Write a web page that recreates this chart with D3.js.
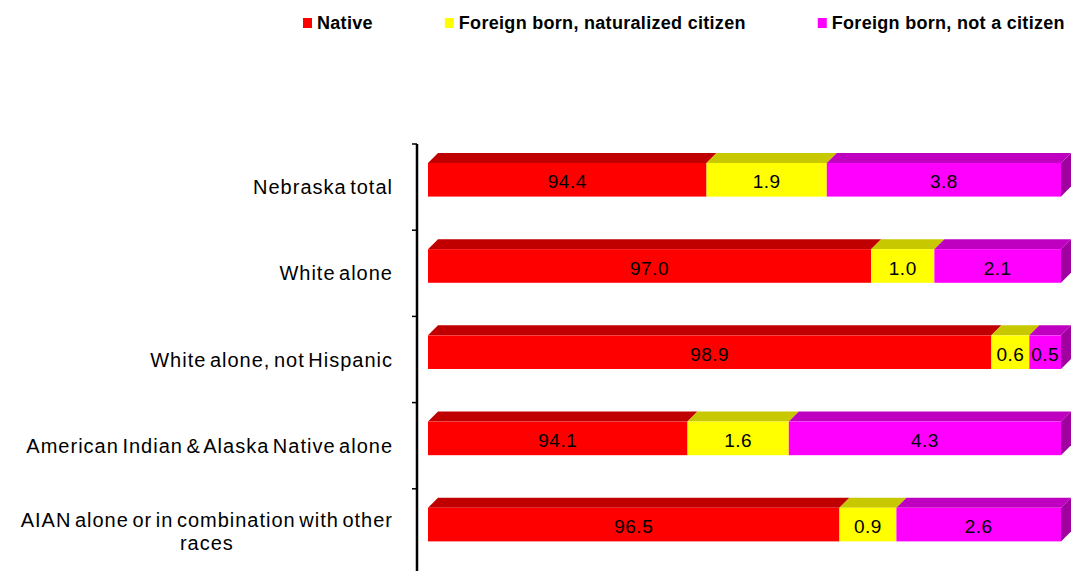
<!DOCTYPE html>
<html>
<head>
<meta charset="utf-8">
<script src="https://cdn.jsdelivr.net/npm/d3@7"></script>
<style>
  body { margin: 0; background: #fff; }
  svg { display: block; font-family: "Liberation Sans", Arial, sans-serif; }
</style>
</head>
<body>
<svg id="chart"></svg>
<script>
const categories = [
    "Nebraska total",
    "White alone",
    "White alone, not Hispanic",
    "American Indian & Alaska Native alone",
    "AIAN alone or in combination with other races"
];
const native = [94.4, 97.0, 98.9, 94.1, 96.5];
const naturalized = [1.9, 1.0, 0.6, 1.6, 0.9];
const notCitizen = [3.8, 2.1, 0.5, 4.3, 2.6];
const seriesNames = ["Native", "Foreign born, naturalized citizen", "Foreign born, not a citizen"];
const frontColors = ["#ff0000", "#ffff00", "#ff00ff"];
const topColors = ["#c00000", "#c8c800", "#c000c0"];
const sideColors = ["#a00000", "#a0a000", "#a000a0"];

const width = 1073, height = 571;
const depth = 10;

const rows = categories.map((c, i) => ({
    cat: c,
    [seriesNames[0]]: native[i],
    [seriesNames[1]]: naturalized[i],
    [seriesNames[2]]: notCitizen[i]
}));

const svg = d3.select("#chart").attr("width", width).attr("height", height);

const xScale = d3.scaleLinear().domain([90, 100]).range([428, 1061]).clamp(true);
const yScale = d3.scaleBand().domain(categories).range([144, 575]).padding(0);

const layers = d3.stack().keys(seriesNames)(rows);

const barTop = c => yScale(c) + yScale.bandwidth() * 0.22;
const barH = yScale.bandwidth() * 0.39;

// bars: top face, front face, side for the last segment
layers.forEach((layer, si) => {
    const g = svg.append("g").attr("class", "layer");
    g.selectAll(".top")
        .data(layer)
        .enter()
        .append("path")
        .attr("fill", topColors[si])
        .attr("d", d => {
            const x0 = xScale(d[0]), x1 = xScale(d[1]), y0 = barTop(d.data.cat);
            return `M${x0},${y0}L${x0 + depth},${y0 - depth}L${x1 + depth},${y0 - depth}L${x1},${y0}Z`;
        });
    g.selectAll(".front")
        .data(layer)
        .enter()
        .append("rect")
        .attr("x", d => xScale(d[0]))
        .attr("y", d => barTop(d.data.cat))
        .attr("width", d => xScale(d[1]) - xScale(d[0]))
        .attr("height", barH)
        .attr("fill", frontColors[si]);
    if (si === layers.length - 1) {
        g.selectAll(".side")
            .data(layer)
            .enter()
            .append("path")
            .attr("fill", sideColors[si])
            .attr("d", d => {
                const x1 = xScale(d[1]), y0 = barTop(d.data.cat);
                return `M${x1},${y0}L${x1 + depth},${y0 - depth}L${x1 + depth},${y0 + barH - depth}L${x1},${y0 + barH}Z`;
            });
    }
    g.selectAll(".val")
        .data(layer)
        .enter()
        .append("text")
        .attr("x", d => (xScale(d[0]) + xScale(d[1])) / 2)
        .attr("y", d => barTop(d.data.cat) + barH / 2 + 2)
        .attr("dy", "0.35em")
        .attr("text-anchor", "middle")
        .style("font-size", "19px")
        .style("letter-spacing", "0.5px")
        .attr("fill", "#000")
        .text(d => d3.format(".1f")(d[1] - d[0]));
});

// axis line with ticks at band boundaries
const axis = svg.append("g");
axis.append("line")
    .attr("x1", 417).attr("x2", 417)
    .attr("y1", yScale.range()[0]).attr("y2", height)
    .attr("stroke", "#000").attr("stroke-width", 2.5);
axis.selectAll(".tick")
    .data(categories)
    .enter()
    .append("line")
    .attr("x1", 412).attr("x2", 417)
    .attr("y1", d => yScale(d)).attr("y2", d => yScale(d))
    .attr("stroke", "#000").attr("stroke-width", 1.5);

// category labels, wrapped and right aligned
const labelRight = 393, maxW = 395, lineH = 23;
categories.forEach(c => {
    const t = svg.append("text")
        .style("font-size", "20px")
        .style("letter-spacing", "1px")
        .style("word-spacing", "-3px")
        .attr("fill", "#000");
    const words = c.split(" ");
    const lines = [];
    let cur = [];
    const probe = t.append("tspan");
    words.forEach(w => {
        const test = cur.concat([w]).join(" ");
        probe.text(test);
        if (probe.node().getComputedTextLength() > maxW && cur.length) {
            lines.push(cur.join(" "));
            cur = [w];
        } else cur.push(w);
    });
    lines.push(cur.join(" "));
    probe.remove();
    const cy = yScale(c) + yScale.bandwidth() / 2;
    if (lines.length === 1) {
        t.attr("text-anchor", "end")
            .append("tspan")
            .attr("x", labelRight)
            .attr("y", cy)
            .attr("dy", "0.35em")
            .text(lines[0]);
    } else {
        const spans = lines.map((l, i) => t.append("tspan")
            .attr("y", cy + (i - (lines.length - 1) / 2) * lineH)
            .attr("dy", "0.35em")
            .text(l));
        const w = d3.max(spans, s => s.node().getComputedTextLength());
        t.attr("text-anchor", "middle");
        spans.forEach(s => s.attr("x", labelRight - w / 2));
    }
});

// legend
const legend = svg.append("g");
let lx = 303;
seriesNames.forEach((name, i) => {
    const item = legend.append("g").attr("transform", `translate(${lx}, 0)`);
    item.append("rect")
        .attr("x", 0).attr("y", 18)
        .attr("width", 9).attr("height", 10)
        .attr("fill", frontColors[i]);
    const txt = item.append("text")
        .attr("x", 14).attr("y", 29)
        .style("font-size", "18px")
        .style("font-weight", "bold")
        .style("letter-spacing", "0.3px")
        .attr("fill", "#000")
        .text(name);
    lx += 14 + txt.node().getComputedTextLength() + 72;
});
</script>
</body>
</html>
